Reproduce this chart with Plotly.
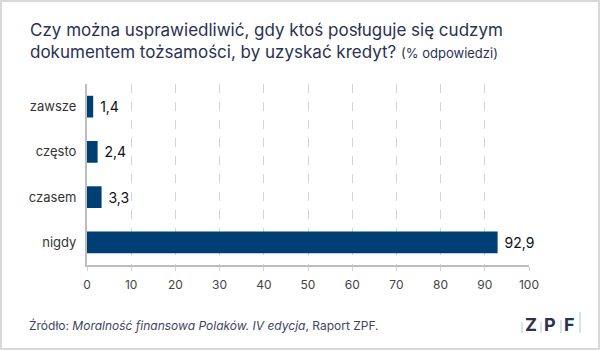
import plotly.graph_objects as go

categories = ["zawsze", "często", "czasem", "nigdy"]
values = [1.4, 2.4, 3.3, 92.9]
labels = ["1,4", "2,4", "3,3", "92,9"]
tick_vals = [0, 10, 20, 30, 40, 50, 60, 70, 80, 90, 100]

FONT = "Inter, Roboto, sans-serif"
NAVY = "#2a3152"

L, R, T, B = 87, 71, 84, 85
PW, PH = 600 - L - R, 350 - T - B


def px_x(px):
    return (px - L) / PW


def px_y(py):
    return (350 - B - py) / PH


fig = go.Figure(go.Bar(
    x=values, y=categories, orientation="h",
    marker=dict(color="#003f74", line=dict(width=0)),
    text=["\u00a0" + t for t in labels], textposition="outside", cliponaxis=False,
    textfont=dict(family=FONT, size=14, color="#111111"),
    width=0.48,
))

fig.update_layout(
    width=600, height=350,
    margin=dict(l=L, r=R, t=T, b=B),
    paper_bgcolor="white", plot_bgcolor="white",
    showlegend=False,
    font=dict(family=FONT, color="#333333"),
    xaxis=dict(range=[0, 100], tickvals=tick_vals, showgrid=True,
               gridcolor="#d4d4d4", griddash="dash", gridwidth=1,
               showline=True, linecolor="#bdbdbd", linewidth=2,
               ticks="outside", ticklen=4, tickcolor="#d4d4d4",
               ticklabelstandoff=4,
               tickfont=dict(size=12, color="#444444"), zeroline=False),
    yaxis=dict(categoryorder="array", categoryarray=categories[::-1],
               showline=True, linecolor="#bdbdbd", linewidth=2,
               ticks="", ticklabelstandoff=6,
               tickfont=dict(size=13, color="#333333"), showgrid=False),
    shapes=[dict(type="rect", xref="paper", yref="paper",
                 x0=px_x(1), x1=px_x(599), y0=px_y(349), y1=px_y(1),
                 line=dict(color="#d9d9d9", width=2), layer="below")],
    annotations=[
        dict(text="Czy można usprawiedliwić, gdy ktoś posługuje się cudzym<br>dokumentem tożsamości, by uzyskać kredyt? <span style='font-size:13px'>(% odpowiedzi)</span>",
             xref="paper", yref="paper", x=px_x(28), y=px_y(18),
             xanchor="left", yanchor="top", align="left", showarrow=False,
             font=dict(family=FONT, size=17, color=NAVY)),
        dict(text="Źródło: <i>Moralność finansowa Polaków. IV edycja</i>, Raport ZPF.",
             xref="paper", yref="paper", x=px_x(27), y=px_y(325),
             xanchor="left", yanchor="middle", showarrow=False,
             font=dict(family=FONT, size=12, color="#3d4466")),
    ],
)

# ZPF logo
for ch, px in [("Z", 531), ("P", 550), ("F", 569)]:
    fig.add_annotation(text=f"<b>{ch}</b>", xref="paper", yref="paper",
                       x=px_x(px), y=px_y(324), xanchor="center", yanchor="middle",
                       showarrow=False, font=dict(family=FONT, size=18, color=NAVY))
for px, top in [(522, 322), (541, 322), (561, 320), (580, 312)]:
    fig.add_shape(type="line", xref="paper", yref="paper",
                  x0=px_x(px), x1=px_x(px), y0=px_y(333), y1=px_y(top),
                  line=dict(color="#a9c8e8", width=1))

fig.write_html("out.html")
